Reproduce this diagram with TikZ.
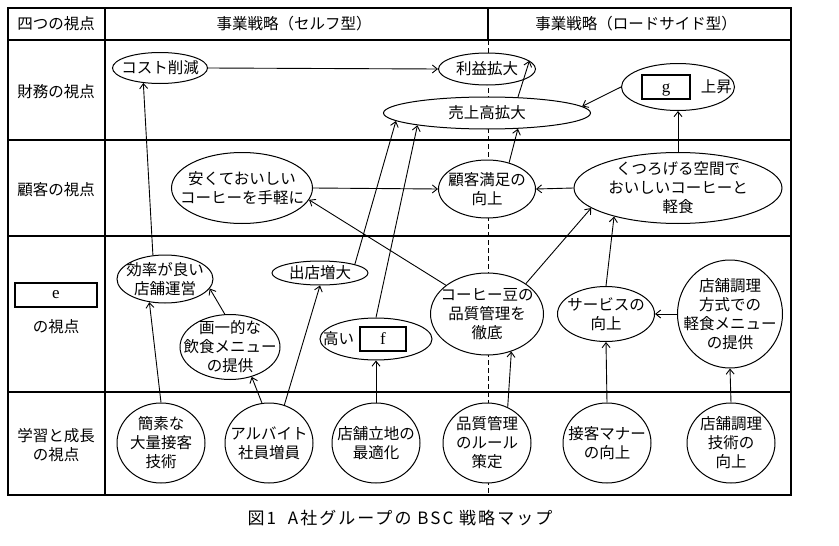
\documentclass[tikz,border=0pt]{standalone}
\usepackage{fontspec}
\setmainfont{Noto Sans CJK JP}
\newfontfamily\bscltrfont{Liberation Serif}
\newfontfamily\bsccapfont[LetterSpace=12]{Noto Sans CJK JP}
\usetikzlibrary{shapes.geometric}
\usetikzlibrary{arrows.meta}
\newcommand{\bscxa}{8}
\newcommand{\bscxb}{105}
\newcommand{\bscxc}{488}
\newcommand{\bscxd}{791}
\newcommand{\bscya}{8}
\newcommand{\bscyb}{40}
\newcommand{\bscyc}{140}
\newcommand{\bscyd}{236}
\newcommand{\bscye}{392}
\newcommand{\bscyf}{495}
\newcommand{\bscblank}[2]{{\setlength{\fboxrule}{1.8pt}\setlength{\fboxsep}{0pt}%
  \fbox{\makebox[#1]{\rule[-6pt]{0pt}{22pt}\bscltrfont\fontsize{17}{19}\selectfont #2}}}}
\tikzset{
  bscell/.style={ellipse,draw,fill=white,line width=1pt,inner sep=-30pt,align=center},
  bscarr/.style={line width=0.9pt,-{Straight Barb[length=5pt,width=8pt]}},
  bscrule/.style={line width=1.2pt}
}

\begin{document}
\begin{tikzpicture}[x=1pt,y=-1pt,font=\fontsize{15.5}{19}\selectfont]
    \useasboundingbox (0,0) rectangle (839,546);

    \draw[bscrule] (\bscxa,\bscya) rectangle (\bscxd,\bscyf);
    \draw[bscrule] (\bscxa,\bscyb) -- (\bscxd,\bscyb);
    \draw[bscrule] (\bscxa,\bscyc) -- (\bscxd,\bscyc);
    \draw[bscrule] (\bscxa,\bscyd) -- (\bscxd,\bscyd);
    \draw[bscrule] (\bscxa,\bscye) -- (\bscxd,\bscye);
    \draw[bscrule] (\bscxb,\bscya) -- (\bscxb,\bscyf);
    \draw[bscrule] (\bscxc,\bscya) -- (\bscxc,\bscyb);
    \draw[line width=1pt,dash pattern=on 5pt off 3pt] (\bscxc,\bscyb) -- (\bscxc,\bscyf);

    \node (hdview) at (56,24) {四つの視点};
    \node (hdself) at (294,24) {事業戦略（セルフ型）};
    \node (hdroad) at (636,24) {事業戦略（ロードサイド型）};
    \node (vwfin) at (56,92) {財務の視点};
    \node (vwcus) at (56,190) {顧客の視点};
    \node (vwbox) at (56,295) [draw,line width=1.8pt,minimum width=82,minimum height=24,inner sep=0pt]
      {\bscltrfont\fontsize{17}{19}\selectfont e};
    \node (vwint) at (56,327) {の視点};
    \node (vwlrn) at (56,445) [align=center] {学習と成長\\の視点};

    \node (cost) at (160,68) [bscell,minimum width=95,minimum height=31] {コスト削減};
    \node (profit) at (487,69) [bscell,minimum width=97,minimum height=32] {利益拡大};
    \node (sales) at (487,113) [bscell,minimum width=207,minimum height=32] {売上高拡大};
    \node (gup) at (678,87) [bscell,minimum width=113,minimum height=47]
      {\hbox{\hspace*{17pt}\bscblank{46pt}{g}\hspace{10pt}上昇}};

    \node (cheap) at (242,188) [bscell,minimum width=141,minimum height=71]
      {安くておいしい\\コーヒーを手軽に};
    \node (satis) at (487,189) [bscell,minimum width=97,minimum height=58] {顧客満足の\\向上};
    \node (relax) at (678,188) [bscell,minimum width=208,minimum height=71]
      {くつろげる空間で\\おいしいコーヒーと\\軽食};

    \node (eff) at (165,279) [bscell,minimum width=96,minimum height=48] {効率が良い\\店舗運営};
    \node (open) at (320,273) [bscell,minimum width=96,minimum height=24] {出店増大};
    \node (menu) at (230,347) [bscell,minimum width=100,minimum height=65]
      {画一的な\\飲食メニュー\\の提供};
    \node (highf) at (376,339) [bscell,minimum width=112,minimum height=42]
      {\hbox{高い\hspace{5pt}\bscblank{44pt}{f}\hspace{22pt}}};
    \node (bean) at (487,314) [bscell,minimum width=113,minimum height=82]
      {コーヒー豆の\\品質管理を\\徹底};
    \node (serv) at (606,314) [bscell,minimum width=97,minimum height=55] {サービスの\\向上};
    \node (cook) at (730,314) [bscell,minimum width=105,minimum height=108]
      {店舗調理\\方式での\\軽食メニュー\\の提供};

    \node (simple) at (161,443) [bscell,minimum width=88,minimum height=80] {簡素な\\大量接客\\技術};
    \node (part) at (269,443) [bscell,minimum width=88,minimum height=80] {アルバイト\\社員増員};
    \node (site) at (376,443) [bscell,minimum width=88,minimum height=80] {店舗立地の\\最適化};
    \node (rule) at (487,443) [bscell,minimum width=88,minimum height=80] {品質管理\\のルール\\策定};
    \node (manner) at (607,443) [bscell,minimum width=88,minimum height=80] {接客マナー\\の向上};
    \node (skill) at (731,443) [bscell,minimum width=88,minimum height=80] {店舗調理\\技術の\\向上};

    \node (cap) at (400,518) {\bsccapfont\fontsize{17}{20}\selectfont 図1\hspace{0.7em}A社グループの BSC 戦略マップ};

    \draw[bscarr] (cost.east) -- (profit.west);
    \draw[bscarr] (sales.27) -- (profit.11);
    \draw[bscarr] (gup.west) -- (sales.4);
    \draw[bscarr] (relax.north) -- (gup.south);
    \draw[bscarr] (relax.west) -- (satis.east);
    \draw[bscarr] (cheap.east) -- (satis.west);
    \draw[bscarr] (satis.50) -- (sales.333);
    \draw[bscarr] (eff.117) -- (cost.222);
    \draw[bscarr] (menu.99) -- (eff.348);
    \draw[bscarr] (simple.north) -- (eff.236);
    \draw[bscarr] (part.100) -- (menu.306);
    \draw[bscarr] (part.68) -- (open.south);
    \draw[bscarr] (open.14) -- (sales.185);
    \draw[bscarr] (highf.north) -- (sales.190);
    \draw[bscarr] (site.north) -- (highf.south);
    \draw[bscarr] (bean.145) -- (cheap.350);
    \draw[bscarr] (bean.38) -- (relax.193);
    \draw[bscarr] (serv.north) -- (relax.204);
    \draw[bscarr] (cook.west) -- (serv.east);
    \draw[bscarr] (manner.north) -- (serv.south);
    \draw[bscarr] (skill.north) -- (cook.south);
    \draw[bscarr] (rule.60) -- (bean.303);
  \end{tikzpicture}
\end{document}
